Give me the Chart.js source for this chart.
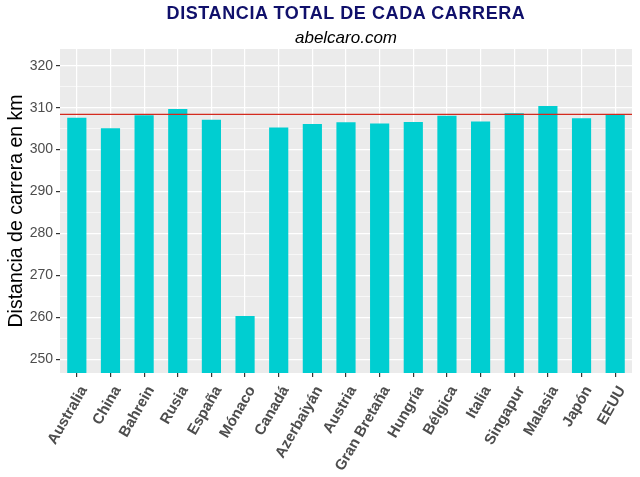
<!DOCTYPE html>
<html>
<head>
<meta charset="utf-8">
<script src="https://cdn.jsdelivr.net/npm/chart.js@4"></script>
<style>
    body { margin: 0; background: #fff; }
    #wrap { position: relative; width: 640px; height: 477px; }
    #grafico { position: absolute; left: 0; top: 0; }
    .titulo { position: absolute; left: 60px; width: 572px; text-align: center; font-family: "Liberation Sans", Arial, sans-serif; white-space: nowrap; }
    #t1 { top: 3px; font-size: 18px; font-weight: bold; letter-spacing: 0.6px; color: #10106B; }
    #t2 { top: 28px; font-size: 17px; font-style: italic; color: #000; }
</style>
</head>
<body>
<div id="wrap">
    <canvas id="grafico" width="640" height="477"></canvas>
    <div class="titulo" id="t1">DISTANCIA TOTAL DE CADA CARRERA</div>
    <div class="titulo" id="t2">abelcaro.com</div>
</div>
<script>
// Datos
const paises = ['Australia', 'China', 'Bahrein', 'Rusia', 'España', 'Mónaco', 'Canadá', 'Azerbaiyán',
    'Austria', 'Gran Bretaña', 'Hungría', 'Bélgica', 'Italia', 'Singapur', 'Malasia', 'Japón', 'EEUU'];
const distancias = [307.6, 305.1, 308.2, 309.7, 307.1, 260.3, 305.3, 306.1,
    306.5, 306.2, 306.6, 308.1, 306.7, 308.7, 310.4, 307.5, 308.4];
const ticksY = [250, 260, 270, 280, 290, 300, 310, 320];
const lineaRef = 308.4;

// fondo gris y linea roja
const fondoPlugin = {
    id: 'fondo',
    beforeDraw(chart) {
        const a = chart.chartArea;
        const ctx = chart.ctx;
        ctx.save();
        ctx.fillStyle = '#EBEBEB';
        ctx.fillRect(a.left, a.top, a.right - a.left, a.bottom - a.top);
        ctx.restore();
    },
    afterDatasetsDraw(chart) {
        const a = chart.chartArea;
        const ctx = chart.ctx;
        const y = chart.scales.y.getPixelForValue(lineaRef);
        ctx.save();
        ctx.strokeStyle = '#D42A1E';
        ctx.lineWidth = 1.2;
        ctx.beginPath();
        ctx.moveTo(a.left, y);
        ctx.lineTo(a.right, y);
        ctx.stroke();
        ctx.restore();
    }
};

const ctx = document.getElementById('grafico').getContext('2d');
const chart = new Chart(ctx, {
    type: 'bar',
    data: {
        labels: paises,
        datasets: [{
            data: distancias,
            backgroundColor: '#00CED1',
            borderWidth: 0,
            barPercentage: 0.57,
            categoryPercentage: 1
        }]
    },
    options: {
        responsive: false,
        animation: false,
        layout: { padding: { top: 49, right: 8, left: 0, bottom: 0 } },
        plugins: {
            legend: { display: false },
            tooltip: { enabled: false }
        },
        scales: {
            x: {
                afterFit: scale => { scale.height = 104; },
                border: { display: false },
                grid: {
                    offset: false,
                    color: '#FFFFFF',
                    lineWidth: 1.2,
                    tickColor: '#333333',
                    tickLength: 4
                },
                ticks: {
                    autoSkip: false,
                    minRotation: 60,
                    maxRotation: 60,
                    padding: 6,
                    labelOffset: 7,
                    color: '#4D4D4D',
                    font: { family: 'Liberation Sans', size: 15, weight: 'bold' }
                }
            },
            y: {
                min: 246.7,
                max: 324,
                afterFit: scale => { scale.width = 60; },
                afterBuildTicks: scale => {
                    const t = [];
                    for (let v = 250; v <= 320; v += 5) t.push({ value: v });
                    scale.ticks = t;
                },
                border: { display: false },
                grid: {
                    color: '#FFFFFF',
                    lineWidth: c => (ticksY.includes(c.tick.value) ? 1.2 : 0.6),
                    tickColor: c => (ticksY.includes(c.tick.value) ? '#333333' : 'rgba(0,0,0,0)'),
                    tickLength: 4
                },
                ticks: {
                    padding: 3,
                    color: '#4D4D4D',
                    font: { family: 'Liberation Sans', size: 14 },
                    callback: v => (ticksY.includes(v) ? v : '')
                },
                title: {
                    display: true,
                    text: 'Distancia de carrera en km',
                    color: '#000000',
                    padding: { top: 5, bottom: 0 },
                    font: { family: 'Liberation Sans', size: 19.5 }
                }
            }
        }
    },
    plugins: [fondoPlugin]
});
</script>
</body>
</html>
